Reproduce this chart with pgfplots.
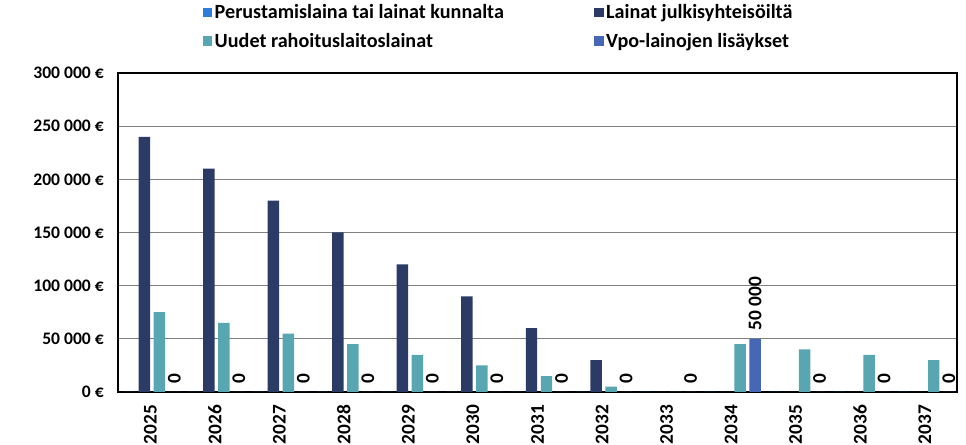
\documentclass[border=0pt]{standalone}
\usepackage{fontspec}
\setmainfont{Carlito}
\usepackage{pgfplots}
\pgfplotsset{compat=1.18}
\definecolor{cPer}{RGB}{46,125,214}
\definecolor{cJulk}{RGB}{44,58,102}
\definecolor{cUud}{RGB}{88,166,177}
\definecolor{cVpo}{RGB}{70,102,182}
\definecolor{cGrid}{RGB}{128,128,128}
\begin{document}
\begin{tikzpicture}
\useasboundingbox (0pt,0pt) rectangle (724.5pt,333.75pt);
\begin{axis}[
  at={(88.5pt,39.75pt)}, anchor=south west,
  scale only axis, width=629.25pt, height=239.25pt,
  xmin=-0.5, xmax=12.5, ymin=0, ymax=300000,
  scaled y ticks=false,
  xtick={0,1,2,3,4,5,6,7,8,9,10,11,12},
  xticklabels={2025,2026,2027,2028,2029,2030,2031,2032,2033,2034,2035,2036,2037},
  ytick={0,50000,100000,150000,200000,250000,300000},
  yticklabels={0 €,50 000 €,100 000 €,150 000 €,200 000 €,250 000 €,300 000 €},
  major tick length=0pt,
  y tick label style={font=\fontsize{13.2}{15}\selectfont\bfseries, text=black, inner sep=0pt},
  x tick label style={font=\fontsize{14.5}{16}\selectfont\bfseries, text=black, rotate=90, anchor=east, inner sep=1pt},
  xticklabel shift=8.5pt,
  yticklabel shift=10.5pt,
  ymajorgrids, grid style={cGrid, line width=0.9pt},
  axis line style={black, line width=1.8pt},
  ybar, bar width=8.6pt,
  legend columns=2,
  legend image code/.code={\fill[#1] (0pt,-3.4pt) rectangle (6.8pt,3.4pt);},
  legend style={at={(0.101,1.225)}, anchor=north west, draw=none, fill=none,
    font=\fontsize{15.1}{17}\selectfont\bfseries, inner sep=0pt,
    row sep=5.5pt,
    /tikz/every even column/.append style={column sep=66pt}},
  legend cell align=left,
]
\addplot[fill=cPer, draw=none, bar shift=-15.75pt] coordinates {
(0,0) (1,0) (2,0) (3,0) (4,0) (5,0) (6,0) (7,0) (8,0) (9,0) (10,0) (11,0) (12,0)};
\addlegendentry{Perustamislaina tai lainat kunnalta}
\addplot[fill=cJulk, draw=none, bar shift=-4.5pt] coordinates {
(0,240000) (1,210000) (2,180000) (3,150000) (4,120000) (5,90000) (6,60000) (7,30000) (8,0) (9,0) (10,0) (11,0) (12,0)};
\addlegendentry{Lainat julkisyhteisöiltä}
\addplot[fill=cUud, draw=none, bar shift=6.75pt] coordinates {
(0,75000) (1,65000) (2,55000) (3,45000) (4,35000) (5,25000) (6,15000) (7,5000) (8,0) (9,45000) (10,40000) (11,35000) (12,30000)};
\addlegendentry{Uudet rahoituslaitoslainat}
\addplot[fill=cVpo, draw=none, bar shift=18pt,
  nodes near coords, point meta=explicit symbolic,
  every node near coord/.append style={rotate=90, anchor=west, inner sep=0pt, xshift=6pt,
    font=\fontsize{14.5}{16}\selectfont\bfseries, text=black}] coordinates {
(0,0)[0] (1,0)[0] (2,0)[0] (3,0)[0] (4,0)[0] (5,0)[0] (6,0)[0] (7,0)[0] (8,0)[0] (9,50000)[50 000] (10,0)[0] (11,0)[0] (12,0)[0]};
\addlegendentry{Vpo-lainojen lisäykset}
\end{axis}
\end{tikzpicture}
\end{document}
